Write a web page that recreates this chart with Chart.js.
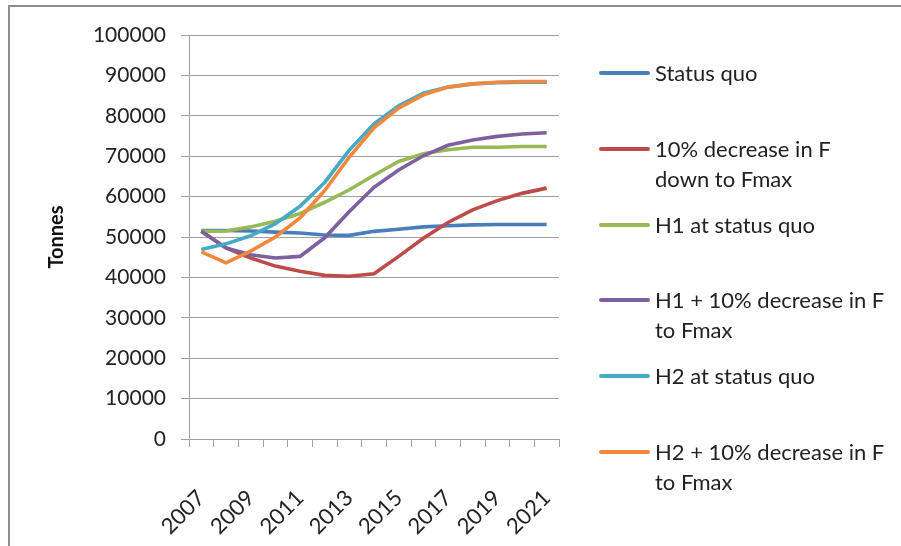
<!DOCTYPE html>
<html>
<head>
<meta charset="utf-8">
<script src="https://cdn.jsdelivr.net/npm/chart.js@4/dist/chart.umd.min.js"></script>
<style>
  html, body { margin: 0; padding: 0; background: #fff; overflow: hidden; }
  #wrap { position: relative; width: 901px; height: 546px; }
  #frame { position: absolute; left: 8px; top: 5px; width: 1000px; height: 1000px; border: 2px solid #8e8e8e; box-sizing: border-box; }
  #chartBox { position: absolute; left: 0; top: 0; width: 901px; height: 546px; }
  #legend { position: absolute; left: 0; top: 0; font-family: Lato, "Open Sans", sans-serif; font-size: 22px; color: #222; }
  .lg-item { position: absolute; left: 599px; }
  .lg-line { position: absolute; left: 0; width: 51px; height: 4px; border-radius: 2px; }
  .lg-text { position: absolute; left: 56px; line-height: 30px; white-space: nowrap; }
</style>
</head>
<body>
<div id="wrap">
  <div id="frame"></div>
  <div id="chartBox"><canvas id="lineChart"></canvas></div>
  <div id="legend"></div>
</div>
<script>
// ── Data ──────────────────────────────────────────────────────────────────
const years = ['2007', '2008', '2009', '2010', '2011', '2012', '2013', '2014',
  '2015', '2016', '2017', '2018', '2019', '2020', '2021'];

const statusQuo    = [51600, 51600, 51500, 51200, 51000, 50500, 50400, 51400, 51900, 52500, 52800, 53000, 53100, 53100, 53100];
const decreaseF    = [51400, 47300, 44800, 42800, 41500, 40500, 40300, 40900, 45200, 49700, 53600, 56700, 59000, 60800, 62100];
const h1StatusQuo  = [51400, 51500, 52500, 53900, 55800, 58600, 61700, 65300, 68700, 70600, 71600, 72200, 72200, 72400, 72400];
const h1DecreaseF  = [51400, 47300, 45600, 44800, 45200, 49800, 56300, 62300, 66600, 70100, 72700, 74000, 74900, 75500, 75800];
const h2StatusQuo  = [46900, 48300, 50300, 53300, 57600, 63500, 71500, 78000, 82500, 85600, 87100, 87900, 88200, 88300, 88300];
const h2DecreaseF  = [46300, 43600, 46500, 50000, 54700, 61500, 69800, 77000, 81900, 85200, 87100, 87900, 88300, 88500, 88500];

const seriesLabels = [
  ['Status quo'],
  ['10% decrease  in F', 'down to Fmax'],
  ['H1 at status quo'],
  ['H1 + 10% decrease in F', 'to Fmax'],
  ['H2 at status quo'],
  ['H2 + 10% decrease in F', 'to Fmax'],
];
const seriesColors = ['#4a7ebb', '#be4b48', '#98b954', '#7d60a0', '#46aac5', '#f0883e'];
const seriesData = [statusQuo, decreaseF, h1StatusQuo, h1DecreaseF, h2StatusQuo, h2DecreaseF];

const yTicks = { min: 0, max: 100000, step: 10000 };

// ── Chart ─────────────────────────────────────────────────────────────────
const axisFont = { family: "Lato, 'Open Sans', sans-serif", size: 21 };
const gridColor = '#a0a0a0';

const lineCtx = document.getElementById('lineChart');
const chart = new Chart(lineCtx, {
  type: 'line',
  data: {
    labels: years,
    datasets: seriesData.map((d, i) => ({
      label: seriesLabels[i].join(' '),
      data: d,
      borderColor: seriesColors[i],
      backgroundColor: seriesColors[i],
      borderWidth: 3.6,
      pointRadius: 0,
      tension: 0,
      fill: false,
      order: seriesData.length - i, // later series on top, like the original
    }))
  },
  options: {
    responsive: true,
    maintainAspectRatio: false,
    animation: false,
    layout: { padding: { left: 0, top: 35, right: 342, bottom: 0 } },
    plugins: { legend: { display: false }, tooltip: { enabled: false } },
    scales: {
      x: {
        offset: true,
        grid: { offset: true, drawOnChartArea: false, drawTicks: true, tickLength: 8, color: gridColor },
        border: { color: gridColor, width: 1 },
        ticks: {
          autoSkip: false,
          maxRotation: 45,
          minRotation: 45,
          padding: 38,
          color: '#222',
          font: { ...axisFont, size: 22 },
          callback: (v, i) => (i % 2 === 0 ? years[i] : ''),
        },
        afterFit: s => { s.height = 107; },
      },
      y: {
        min: yTicks.min,
        max: yTicks.max,
        grid: { color: gridColor, tickLength: 8 },
        border: { color: gridColor, width: 1 },
        ticks: { stepSize: yTicks.step, padding: 15, color: '#222', font: axisFont, callback: v => String(v) },
        title: {
          display: true,
          text: 'Tonnes',
          color: '#111',
          font: { family: "Lato, 'Open Sans', sans-serif", size: 20, weight: 'bold' },
          padding: { top: 45, bottom: 0 },
        },
        afterFit: s => { s.width = 189; },
      },
    },
  }
});

// ── Legend (right side, fixed slots like the original) ────────────────────
const legend = document.getElementById('legend');
seriesLabels.forEach((lines, i) => {
  const top = 73 + i * 75.8;
  const item = document.createElement('div');
  item.className = 'lg-item';
  item.style.top = top + 'px';
  item.innerHTML = `
    <div class="lg-line" style="top:-2px;background:${seriesColors[i]}"></div>
    <div class="lg-text" style="top:-15px">${lines.join('<br>')}</div>`;
  legend.appendChild(item);
});
</script>
</body>
</html>
